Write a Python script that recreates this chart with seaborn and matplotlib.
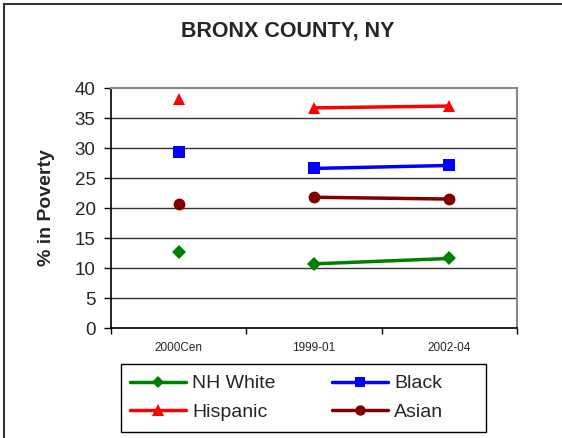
import matplotlib
matplotlib.use("Agg")
import matplotlib.pyplot as plt
import seaborn as sns
import pandas as pd
from matplotlib.lines import Line2D
from matplotlib.patches import Rectangle

periods = ["2000Cen", "1999-01", "2002-04"]
groups = ["NH White", "Black", "Hispanic", "Asian"]
nh_white = [12.7, 10.7, 11.6]
black = [29.3, 26.6, 27.1]
hispanic = [38.2, 36.7, 37.0]
asian = [20.7, 21.8, 21.5]
yticks = [0, 5, 10, 15, 20, 25, 30, 35, 40]

colors = {"NH White": "#008000", "Black": "#0000FF", "Hispanic": "#FF0000", "Asian": "#800000"}
markers = {"NH White": "D", "Black": "s", "Hispanic": "^", "Asian": "o"}
msizes = {"NH White": 7, "Black": 8, "Hispanic": 9, "Asian": 8.5}

sns.set_theme(style="white")
plt.rcParams["font.family"] = ["Liberation Sans", "DejaVu Sans"]

rows = []
for g, vals in zip(groups, [nh_white, black, hispanic, asian]):
    for i, (p, v) in enumerate(zip(periods, vals)):
        rows.append({"group": g, "period": p, "x": i, "value": v})
df = pd.DataFrame(rows)

W, H = 562, 438
fig = plt.figure(figsize=(W / 100, H / 100), dpi=100)
ax = fig.add_axes([0.1975, 0.251, 0.7225, 0.548])

trend = df[df["x"] > 0]
census = df[df["x"] == 0]
for g in groups:
    sub = trend[trend["group"] == g]
    sns.lineplot(data=sub, x="x", y="value", ax=ax, color=colors[g], lw=2.5,
                 marker=markers[g], markersize=msizes[g], markeredgewidth=0,
                 legend=False)
    c = census[census["group"] == g]
    ax.plot(c["x"], c["value"], linestyle="none", marker=markers[g],
            markersize=msizes[g], color=colors[g], markeredgewidth=0)

ax.set_xlim(-0.5, 2.5)
ax.set_ylim(0, 40)
ax.set_yticks(yticks)
ax.set_yticklabels([str(t) for t in yticks], fontsize=13.5)
ax.set_xticks([-0.5, 0.5, 1.5, 2.5])
ax.set_xticklabels([])
ax.set_xticks([0, 1, 2], minor=True)
ax.set_xticklabels(periods, minor=True, fontsize=8.5)
ax.tick_params(axis="x", which="minor", length=0, pad=10)
ax.tick_params(axis="x", which="major", direction="out", length=4, width=1, color="black", bottom=True)
ax.tick_params(axis="y", direction="out", length=5, width=1, color="black", left=True, pad=6)
ax.set_xlabel("")
ax.set_ylabel("% in Poverty", fontsize=14, fontweight="bold", labelpad=14)
for y in yticks[1:-1]:
    ax.axhline(y, color="#333333", lw=1, zorder=0)
for s in ["top", "right"]:
    ax.spines[s].set_color("#888888")
    ax.spines[s].set_linewidth(1.5)
for s in ["left", "bottom"]:
    ax.spines[s].set_color("black")
    ax.spines[s].set_linewidth(1.2)

fig.text(0.512, 0.93, "BRONX COUNTY, NY", ha="center", va="center",
         fontsize=15.5, fontweight="bold")

order = ["NH White", "Hispanic", "Black", "Asian"]
handles = [Line2D([0], [0], color=colors[g], lw=2.5, marker=markers[g],
                  markersize=msizes[g] - 1, markeredgewidth=0) for g in order]
leg = fig.legend(handles, order, loc="upper left",
                 bbox_to_anchor=(121 / W, 1 - 366 / H), borderaxespad=0,
                 ncol=2, fontsize=14, frameon=False,
                 handlelength=2.9, columnspacing=2.9, borderpad=0.45,
                 labelspacing=0.55, handletextpad=0.3)
fig.add_artist(Rectangle((121 / W, 1 - 432 / H), (486 - 121) / W, (432 - 364) / H,
                         transform=fig.transFigure, fill=False, edgecolor="black", lw=1))

fig.add_artist(Line2D([0.0075, 0.0075], [0, 0.991], color="#333333", lw=1.5, transform=fig.transFigure))
fig.add_artist(Line2D([0.0075, 1.0], [0.991, 0.991], color="#333333", lw=1.5, transform=fig.transFigure))

fig.savefig("out.png", dpi=100)
